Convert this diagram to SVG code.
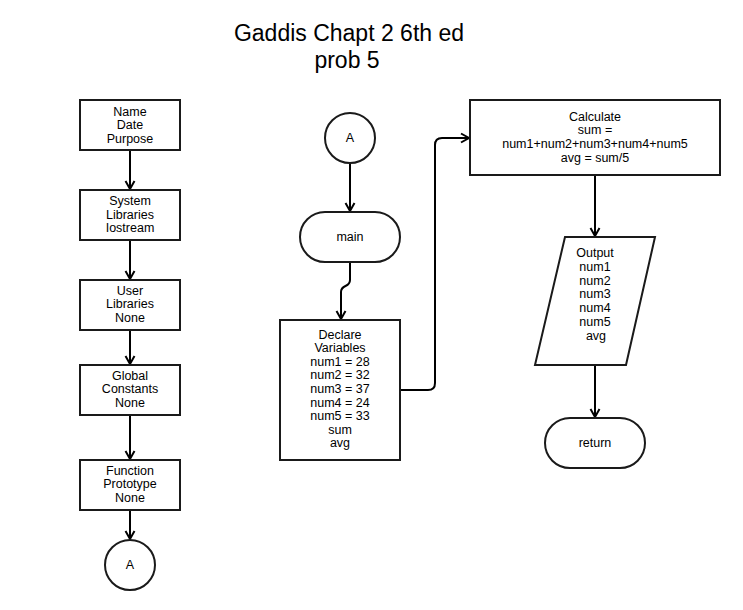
<svg xmlns="http://www.w3.org/2000/svg" width="743" height="610" viewBox="0 0 743 610">
<style>
.shape{fill:#fff;stroke:#1a1a1a;stroke-width:2}
.t{font-family:"Liberation Sans",Arial,sans-serif;font-size:12.5px;fill:#000;text-anchor:middle}
.title{font-family:"Liberation Sans",Arial,sans-serif;font-size:23px;fill:#000;text-anchor:middle}
.c{fill:none;stroke:#000;stroke-width:2}
</style>
<defs>
<marker id="arr" markerWidth="12" markerHeight="12" refX="9" refY="6" orient="auto" markerUnits="userSpaceOnUse">
<path d="M1,1.5 L9,6 L1,10.5" fill="none" stroke="#000" stroke-width="2"/>
</marker>
</defs>
<rect width="743" height="610" fill="#fff"/>
<g id="title">
<text class="title" x="349" y="41">Gaddis Chapt 2 6th ed</text>
<text class="title" x="347" y="68">prob 5</text>
</g>
<g id="connectors">
<path class="c" d="M130 150 V189" marker-end="url(#arr)"/>
<path class="c" d="M130 240 V279" marker-end="url(#arr)"/>
<path class="c" d="M130 330 V364" marker-end="url(#arr)"/>
<path class="c" d="M130 415 V459" marker-end="url(#arr)"/>
<path class="c" d="M130 510 V539" marker-end="url(#arr)"/>
<path class="c" d="M350 163 V211" marker-end="url(#arr)"/>
<path class="c" d="M350 262 V280 C350 288 341 284 341 292 V319" marker-end="url(#arr)"/>
<path class="c" d="M400 390 H428 Q435 390 435 383 V145 Q435 138 442 138 H469" marker-end="url(#arr)"/>
<path class="c" d="M595 175 V236" marker-end="url(#arr)"/>
<path class="c" d="M595 365 V417" marker-end="url(#arr)"/>
</g>
<g id="n-name">
<rect class="shape" x="80" y="100" width="100" height="50"/>
<text class="t" x="130" y="115.5">Name</text>
<text class="t" x="130" y="129">Date</text>
<text class="t" x="130" y="142.5">Purpose</text>
</g>
<g id="n-syslib">
<rect class="shape" x="80" y="190" width="100" height="50"/>
<text class="t" x="130" y="205">System</text>
<text class="t" x="130" y="218.5">Libraries</text>
<text class="t" x="130" y="232">Iostream</text>
</g>
<g id="n-userlib">
<rect class="shape" x="80" y="280" width="100" height="50"/>
<text class="t" x="130" y="294.5">User</text>
<text class="t" x="130" y="308">Libraries</text>
<text class="t" x="130" y="321.5">None</text>
</g>
<g id="n-global">
<rect class="shape" x="80" y="365" width="100" height="50"/>
<text class="t" x="130" y="379.5">Global</text>
<text class="t" x="130" y="393">Constants</text>
<text class="t" x="130" y="406.5">None</text>
</g>
<g id="n-proto">
<rect class="shape" x="80" y="460" width="100" height="50"/>
<text class="t" x="130" y="474.5">Function</text>
<text class="t" x="130" y="488">Prototype</text>
<text class="t" x="130" y="501.5">None</text>
</g>
<g id="n-a1">
<circle class="shape" cx="130" cy="565" r="25"/>
<text class="t" x="130" y="569">A</text>
</g>
<g id="n-a2">
<circle class="shape" cx="350" cy="138" r="25"/>
<text class="t" x="350" y="142">A</text>
</g>
<g id="n-main">
<rect class="shape" x="300" y="212" width="100" height="50" rx="25" ry="25"/>
<text class="t" x="350" y="241">main</text>
</g>
<g id="n-declare">
<rect class="shape" x="280" y="320" width="120" height="140"/>
<text class="t" x="340" y="338.5">Declare</text>
<text class="t" x="340" y="352.1">Variables</text>
<text class="t" x="340" y="365.7">num1 = 28</text>
<text class="t" x="340" y="379.3">num2 = 32</text>
<text class="t" x="340" y="392.9">num3 = 37</text>
<text class="t" x="340" y="406.5">num4 = 24</text>
<text class="t" x="340" y="420.1">num5 = 33</text>
<text class="t" x="340" y="433.7">sum</text>
<text class="t" x="340" y="447.3">avg</text>
</g>
<g id="n-calc">
<rect class="shape" x="470" y="100" width="250" height="75"/>
<text class="t" x="595" y="120.5">Calculate</text>
<text class="t" x="595" y="134.2">sum =</text>
<text class="t" x="595" y="147.9">num1+num2+num3+num4+num5</text>
<text class="t" x="595" y="161.6">avg = sum/5</text>
</g>
<g id="n-output">
<polygon class="shape" points="565,237 655,237 626,365 535,365"/>
<text class="t" x="595" y="257">Output</text>
<text class="t" x="595" y="270.8">num1</text>
<text class="t" x="595" y="284.6">num2</text>
<text class="t" x="595" y="298.4">num3</text>
<text class="t" x="595" y="312.2">num4</text>
<text class="t" x="595" y="326">num5</text>
<text class="t" x="596" y="339.8">avg</text>
</g>
<g id="n-return">
<rect class="shape" x="545" y="418" width="100" height="50" rx="25" ry="25"/>
<text class="t" x="595" y="447">return</text>
</g>
</svg>
